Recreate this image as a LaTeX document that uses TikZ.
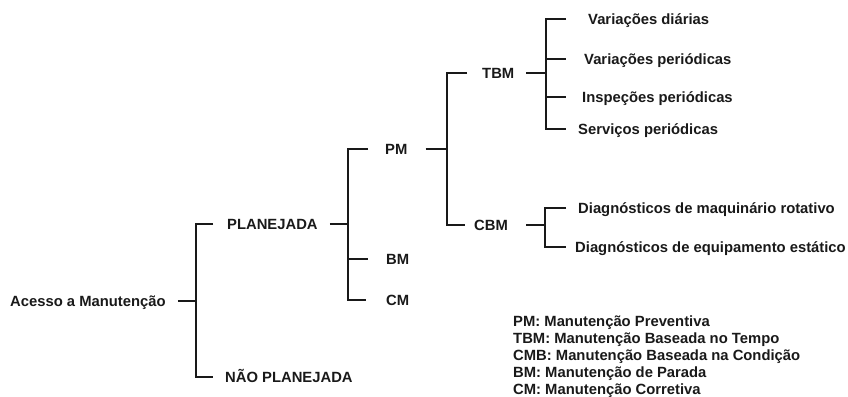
\documentclass[tikz,border=0pt]{standalone}
\usepackage{fontspec}
\setmainfont{Liberation Sans}
\begin{document}
\begin{tikzpicture}[x=1pt,y=-1pt,
  lbl/.style={font=\fontsize{14.8}{16}\selectfont\bfseries, text=black!90, inner sep=0pt, text height=10.6pt, text depth=0pt, anchor=west},
  conn/.style={draw=black!90, line width=1.8pt, line join=miter, line cap=butt}]
\useasboundingbox (0,0) rectangle (848,396);
\clip (0,0) rectangle (848,396);
% nodes
\node[lbl] (acesso) at (10,301) {Acesso a Manutenção};
\node[lbl] (plan) at (227,224) {PLANEJADA};
\node[lbl] (nplan) at (225,377) {NÃO PLANEJADA};
\node[lbl] (pm) at (385,149) {PM};
\node[lbl] (bm) at (386,259) {BM};
\node[lbl] (cm) at (386,300) {CM};
\node[lbl] (tbm) at (482,73) {TBM};
\node[lbl] (cbm) at (474,225) {CBM};
\node[lbl] (v1) at (588,19) {Variações diárias};
\node[lbl] (v2) at (584,59) {Variações periódicas};
\node[lbl] (v3) at (582,97) {Inspeções periódicas};
\node[lbl] (v4) at (578,129) {Serviços periódicas};
\node[lbl] (d1) at (578,208) {Diagnósticos de maquinário rotativo};
\node[lbl] (d2) at (575,247) {Diagnósticos de equipamento estático};
\node[lbl] (leg1) at (513,321) {PM: Manutenção Preventiva};
\node[lbl] (leg2) at (513,338) {TBM: Manutenção Baseada no Tempo};
\node[lbl] (leg3) at (513,355) {CMB: Manutenção Baseada na Condição};
\node[lbl] (leg4) at (513,372) {BM: Manutenção de Parada};
\node[lbl] (leg5) at (513,389) {CM: Manutenção Corretiva};
% junction x positions
\coordinate (j1) at (196,0);
\coordinate (j2) at (348,0);
\coordinate (j3) at (447,0);
\coordinate (j4) at (546,0);
\coordinate (j5) at (545,0);
% connectors
\draw[conn] ([xshift=12pt]acesso.east) -- (acesso.east -| j1);
\draw[conn] ([xshift=-14pt]plan.west) -- (plan.west -| j1) -- (nplan.west -| j1) -- ([xshift=-12pt]nplan.west);
\draw[conn] ([xshift=12pt]plan.east) -- (plan.east -| j2);
\draw[conn] ([xshift=-17pt]pm.west) -- (pm.west -| j2) -- (cm.west -| j2) -- ([xshift=-20pt]cm.west);
\draw[conn] (bm.west -| j2) -- ([xshift=-18pt]bm.west);
\draw[conn] ([xshift=18pt]pm.east) -- (pm.east -| j3);
\draw[conn] ([xshift=-15pt]tbm.west) -- (tbm.west -| j3) -- (cbm.west -| j3) -- ([xshift=-9pt]cbm.west);
\draw[conn] ([xshift=12pt]tbm.east) -- (tbm.east -| j4);
\draw[conn] ([xshift=-22pt]v1.west) -- (v1.west -| j4) -- (v4.west -| j4) -- ([xshift=-12pt]v4.west);
\draw[conn] (v2.west -| j4) -- ([xshift=-18pt]v2.west);
\draw[conn] (v3.west -| j4) -- ([xshift=-16pt]v3.west);
\draw[conn] ([xshift=18pt]cbm.east) -- (cbm.east -| j5);
\draw[conn] ([xshift=-12pt]d1.west) -- (d1.west -| j5) -- (d2.west -| j5) -- ([xshift=-9pt]d2.west);
\end{tikzpicture}
\end{document}
